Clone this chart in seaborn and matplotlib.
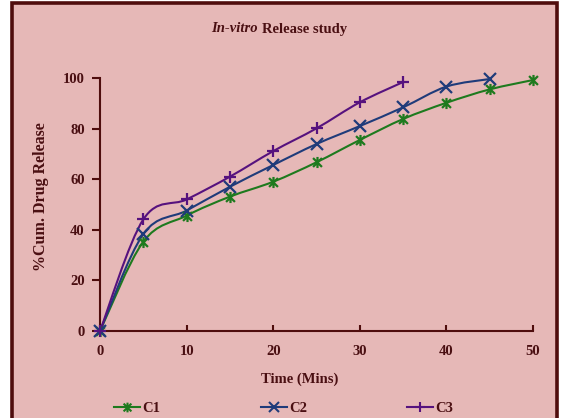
import numpy as np
import pandas as pd
import matplotlib
matplotlib.use("Agg")
import matplotlib.pyplot as plt
from matplotlib.path import Path
from matplotlib.patches import PathPatch, Rectangle
from matplotlib.lines import Line2D
import seaborn as sns

time_c1 = [0, 5, 10, 15, 20, 25, 30, 35, 40, 45, 50]
c1 = [0, 35.3, 45.6, 53.1, 59.0, 66.7, 75.5, 83.8, 90.2, 95.5, 99.2]
time_c2 = [0, 5, 10, 15, 20, 25, 30, 35, 40, 45]
c2 = [0, 38.3, 47.6, 57.0, 65.6, 73.9, 81.0, 88.4, 96.6, 99.6]
time_c3 = [0, 5, 10, 15, 20, 25, 30, 35]
c3 = [0, 44.1, 52.0, 61.0, 71.1, 80.1, 90.4, 98.4]
series_names = ["C1", "C2", "C3"]
x_ticks = [0, 10, 20, 30, 40, 50]
y_ticks = [0, 20, 40, 60, 80, 100]

BG = "#E6B8B7"
MAROON = "#4F0D0D"
TEXT = "#4A0F12"
colors = {"C1": "#1E7A1E", "C2": "#1F3B7A", "C3": "#56127E"}

star_path = Path([(-1, -1), (1, 1), (-1, 1), (1, -1), (0, -1.25), (0, 1.25)],
                 [Path.MOVETO, Path.LINETO, Path.MOVETO, Path.LINETO, Path.MOVETO, Path.LINETO])
markers = {"C1": star_path, "C2": "x", "C3": "+"}

frames = []
for name, t, v in zip(series_names, [time_c1, time_c2, time_c3], [c1, c2, c3]):
    frames.append(pd.DataFrame({"Time": t, "Release": v, "Series": name}))
df = pd.concat(frames, ignore_index=True)

plt.rcParams["font.family"] = ["Liberation Serif", "DejaVu Serif"]
plt.rcParams["font.weight"] = "bold"

W, H = 561, 418
fig = plt.figure(figsize=(W / 100, H / 100), dpi=100, facecolor="white")
fig.add_artist(Rectangle((11.5 / W, -0.05), (557 - 11.5) / W, (H - 3.5) / H + 0.05,
                         transform=fig.transFigure, facecolor=BG, edgecolor=MAROON,
                         lw=2.6, zorder=-10))
ax = fig.add_axes([100 / W, 1 - 331 / H, (533 - 100) / W, (331 - 78) / H])
ax.set_facecolor("none")


def smooth_path(xs, ys):
    pts = np.column_stack([xs, ys]).astype(float)
    n = len(pts)
    verts = [pts[0]]
    codes = [Path.MOVETO]
    for i in range(n - 1):
        p0 = pts[i - 1] if i > 0 else pts[i]
        p1 = pts[i]
        p2 = pts[i + 1]
        p3 = pts[i + 2] if i + 2 < n else pts[i + 1]
        c1p = p1 + (p2 - p0) / 6.0
        c2p = p2 - (p3 - p1) / 6.0
        verts += [c1p, c2p, p2]
        codes += [Path.CURVE4] * 3
    return Path(verts, codes)


for name, t, v in zip(series_names, [time_c1, time_c2, time_c3], [c1, c2, c3]):
    patch = PathPatch(smooth_path(t, v), facecolor="none", edgecolor=colors[name],
                      lw=1.5, transform=ax.transData, zorder=2)
    ax.add_patch(patch)

for name in series_names:
    sub = df[df["Series"] == name]
    sns.lineplot(data=sub, x="Time", y="Release", ax=ax, color=colors[name],
                 marker=markers[name], markersize=8, markeredgewidth=1.6,
                 markeredgecolor=colors[name], linestyle="none", lw=0,
                 legend=False, zorder=3, clip_on=False)

ax.set_xlim(0, 50)
ax.set_ylim(0, 100)
ax.set_xticks(x_ticks)
ax.set_yticks(y_ticks)
for s in ["top", "right"]:
    ax.spines[s].set_visible(False)
for s in ["left", "bottom"]:
    ax.spines[s].set_color(MAROON)
    ax.spines[s].set_linewidth(1.5)
ax.tick_params(axis="x", direction="in", length=4, width=1.5, color=MAROON,
               labelcolor=TEXT, labelsize=10.5, pad=10)
ax.tick_params(axis="y", direction="out", length=6, width=1.5, color=MAROON,
               labelcolor=TEXT, labelsize=10.5, pad=5)
for lab in ax.get_xticklabels() + ax.get_yticklabels():
    lab.set_fontweight("bold")
ax.set_xlabel("")
ax.set_ylabel("")

fig.text(300 / W, 1 - 379 / H, "Time (Mins)", fontsize=10.5, fontweight="bold",
         color=TEXT, ha="center", va="center")
fig.text(41 / W, 1 - 197 / H, "%Cum. Drug Release", fontsize=11.5, fontweight="bold",
         color=TEXT, ha="center", va="center", rotation=90)

fig.text(211 / W, 1 - 29 / H, "In-vitro", fontsize=10.5, fontweight="bold",
         fontstyle="italic", color=TEXT, ha="left", va="center")
fig.text(262 / W, 1 - 29 / H, "Release study", fontsize=10.5, fontweight="bold",
         color=TEXT, ha="left", va="center")

leg_x = {"C1": 114, "C2": 261, "C3": 407}
for n in series_names:
    h = Line2D([0], [0], color=colors[n], lw=1.5, marker=markers[n], markersize=7,
               markeredgewidth=1.5, markeredgecolor=colors[n])
    leg = fig.legend([h], [n], loc="center left", bbox_to_anchor=(leg_x[n] / W, 1 - 408 / H),
                     frameon=False, handlelength=1.8, handletextpad=0.15,
                     borderpad=0, borderaxespad=0, fontsize=10.5)
    for txt in leg.get_texts():
        txt.set_color(TEXT)
        txt.set_fontweight("bold")

fig.savefig("out.png", dpi=100, facecolor="white")
